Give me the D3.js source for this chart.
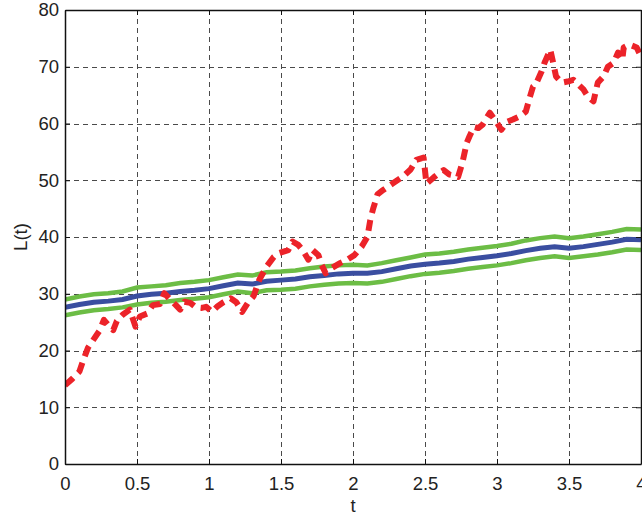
<!DOCTYPE html>
<html>
<head>
<meta charset="utf-8">
<script src="https://cdn.jsdelivr.net/npm/d3@7"></script>
<style>
  body { margin: 0; background: #fff; }
  text { font-family: "Liberation Sans", Arial, sans-serif; fill: #222; }
</style>
</head>
<body>
<div id="chart"></div>
<script>
// time grid for the mean and band curves
const tGrid = [0, 0.1, 0.2, 0.3, 0.4, 0.5, 0.6, 0.7, 0.8, 0.9, 1.0, 1.1, 1.2, 1.3, 1.4,
  1.5, 1.6, 1.7, 1.8, 1.9, 2.0, 2.1, 2.2, 2.3, 2.4, 2.5, 2.6, 2.7, 2.8, 2.9, 3.0,
  3.1, 3.2, 3.3, 3.4, 3.5, 3.6, 3.7, 3.8, 3.9, 4.0];
const meanL = [27.6, 28.1, 28.5, 28.7, 29.0, 29.6, 29.9, 30.1, 30.4, 30.6, 30.9, 31.4,
  31.9, 31.7, 32.2, 32.4, 32.6, 33.0, 33.2, 33.5, 33.6, 33.6, 33.9, 34.4, 34.9, 35.2,
  35.4, 35.7, 36.1, 36.4, 36.7, 37.1, 37.6, 38.0, 38.3, 38.0, 38.3, 38.7, 39.1, 39.6, 39.5];
const upperL = [29.0, 29.5, 29.9, 30.1, 30.4, 31.1, 31.3, 31.5, 31.9, 32.1, 32.4, 32.9,
  33.4, 33.2, 33.8, 33.9, 34.1, 34.5, 34.8, 35.0, 35.1, 35.0, 35.4, 35.9, 36.4, 36.9,
  37.1, 37.4, 37.8, 38.1, 38.4, 38.8, 39.4, 39.8, 40.1, 39.8, 40.1, 40.5, 40.9, 41.4, 41.3];
const lowerL = [26.2, 26.7, 27.1, 27.3, 27.6, 28.1, 28.4, 28.6, 28.9, 29.1, 29.4, 29.9,
  30.4, 30.1, 30.6, 30.7, 30.9, 31.3, 31.6, 31.8, 31.9, 31.8, 32.1, 32.6, 33.1, 33.5,
  33.7, 34.0, 34.4, 34.7, 35.0, 35.4, 35.9, 36.3, 36.6, 36.3, 36.6, 36.9, 37.3, 37.8, 37.7];

// sample path (red dashed)
const tPath = [0.0, 0.05, 0.1, 0.13, 0.16, 0.2, 0.24, 0.27, 0.3, 0.335, 0.36, 0.4, 0.45,
  0.49, 0.52, 0.57, 0.61, 0.66, 0.69, 0.73, 0.77, 0.8, 0.83, 0.87, 0.91, 0.95, 0.98,
  1.02, 1.06, 1.1, 1.15, 1.19, 1.23, 1.27, 1.31, 1.35, 1.4, 1.45, 1.49, 1.55, 1.58,
  1.62, 1.65, 1.69, 1.72, 1.76, 1.78, 1.81, 1.85, 1.91, 1.96, 2.01, 2.06, 2.1, 2.12,
  2.14, 2.17, 2.21, 2.28, 2.35, 2.4, 2.44, 2.49, 2.51, 2.56, 2.6, 2.63, 2.67, 2.71,
  2.73, 2.76, 2.79, 2.81, 2.84, 2.87, 2.9, 2.95, 3.0, 3.03, 3.07, 3.11, 3.16, 3.2,
  3.23, 3.25, 3.27, 3.31, 3.33, 3.37, 3.39, 3.41, 3.45, 3.49, 3.53, 3.56, 3.6, 3.63,
  3.67, 3.7, 3.74, 3.77, 3.81, 3.84, 3.87, 3.88, 3.92, 3.97, 4.0];
const pathL = [13.9, 15.0, 16.3, 18.5, 20.5, 22.0, 23.5, 25.4, 24.5, 23.6, 25.2, 26.3, 27.2,
  24.2, 26.0, 26.5, 28.0, 28.2, 30.1, 29.0, 28.0, 27.2, 28.6, 28.4, 27.6, 27.5, 27.7,
  26.8, 27.8, 28.5, 29.2, 28.5, 26.8, 28.4, 29.6, 32.5, 34.8, 36.5, 37.2, 37.7, 39.2,
  38.6, 37.7, 36.0, 37.7, 36.8, 35.2, 33.6, 34.5, 35.4, 36.0, 36.8, 38.3, 40.0, 43.0,
  45.0, 47.5, 48.3, 49.5, 50.7, 51.9, 53.6, 54.0, 49.4, 50.5, 51.3, 51.8, 51.0, 50.8,
  50.6, 53.1, 56.6, 57.8, 59.4, 59.2, 59.8, 61.9, 60.1, 58.9, 60.3, 60.7, 61.3, 62.1,
  64.8, 66.5, 66.9, 69.2, 70.7, 73.0, 70.7, 68.3, 67.2, 67.4, 67.7, 67.0, 66.0, 64.8,
  63.9, 67.2, 68.3, 70.0, 70.7, 72.5, 71.2, 73.4, 73.9, 73.4, 71.8];

const xTicks = [0, 0.5, 1, 1.5, 2, 2.5, 3, 3.5, 4];
const yTicks = [0, 10, 20, 30, 40, 50, 60, 70, 80];

const width = 642, height = 518;
const margin = { top: 10, right: 1, bottom: 54, left: 65 };
const fontSize = 18.5;

const svg = d3.select("#chart").append("svg")
  .attr("width", width).attr("height", height);

const x = d3.scaleLinear().domain([0, 4]).range([margin.left, width - margin.right]);
const y = d3.scaleLinear().domain([0, 80]).range([height - margin.bottom, margin.top]);

svg.append("clipPath").attr("id", "plot-clip")
  .append("rect")
  .attr("x", x(0)).attr("y", y(80))
  .attr("width", x(4) - x(0)).attr("height", y(0) - y(80));

// grid
const grid = svg.append("g")
  .attr("stroke", "#4a4a4a").attr("stroke-width", 1).attr("stroke-dasharray", "5,4");
grid.selectAll("line.v").data(xTicks.slice(1, -1)).join("line")
  .attr("class", "v")
  .attr("x1", (d) => Math.round(x(d)) + 0.5).attr("x2", (d) => Math.round(x(d)) + 0.5)
  .attr("y1", y(80)).attr("y2", y(0));
grid.selectAll("line.h").data(yTicks.slice(1, -1)).join("line")
  .attr("class", "h")
  .attr("y1", (d) => Math.round(y(d)) + 0.5).attr("y2", (d) => Math.round(y(d)) + 0.5)
  .attr("x1", x(0)).attr("x2", x(4));

const plot = svg.append("g").attr("clip-path", "url(#plot-clip)");

const gridLine = (vals) => d3.line()
  .x((d, i) => x(tGrid[i]))
  .y((d) => y(d))(vals);

plot.append("path").attr("d", gridLine(upperL))
  .attr("fill", "none").attr("stroke", "#6cbd45").attr("stroke-width", 4.5);
plot.append("path").attr("d", gridLine(lowerL))
  .attr("fill", "none").attr("stroke", "#6cbd45").attr("stroke-width", 4.5);
plot.append("path").attr("d", gridLine(meanL))
  .attr("fill", "none").attr("stroke", "#3a4ea0").attr("stroke-width", 5);

const pathLine = d3.line()
  .x((d, i) => x(tPath[i]))
  .y((d) => y(d));
plot.append("path").attr("d", pathLine(pathL))
  .attr("fill", "none").attr("stroke", "#ec2329").attr("stroke-width", 6)
  .attr("stroke-dasharray", "11,7").attr("stroke-linejoin", "round");

// axes, MATLAB style with inward ticks
svg.append("g")
  .attr("transform", `translate(0,${y(0)})`)
  .call(d3.axisBottom(x).tickValues(xTicks).tickSizeInner(-5).tickSizeOuter(0)
    .tickPadding(13).tickFormat(d3.format("")));
svg.append("g")
  .attr("transform", `translate(${x(0)},0)`)
  .call(d3.axisLeft(y).tickValues(yTicks).tickSizeInner(-5).tickSizeOuter(0)
    .tickPadding(6));
svg.append("g")
  .attr("transform", `translate(0,${y(80)})`)
  .call(d3.axisTop(x).tickValues(xTicks).tickSizeInner(-5).tickSizeOuter(0).tickFormat(""));
svg.append("g")
  .attr("transform", `translate(${x(4)},0)`)
  .call(d3.axisRight(y).tickValues(yTicks).tickSizeInner(-5).tickSizeOuter(0).tickFormat(""));

svg.selectAll(".domain").attr("stroke", "#111").attr("stroke-width", 1.5);
svg.selectAll(".tick line").attr("stroke", "#111");
svg.selectAll(".tick text").attr("font-size", fontSize).attr("fill", "#222")
  .style("font-family", "'Liberation Sans', Arial, sans-serif");

svg.append("text")
  .attr("x", (x(0) + x(4)) / 2).attr("y", 512)
  .attr("text-anchor", "middle").attr("font-size", fontSize)
  .text("t");
svg.append("text")
  .attr("transform", `translate(27,${(y(0) + y(80)) / 2}) rotate(-90)`)
  .attr("text-anchor", "middle").attr("font-size", fontSize)
  .text("L(t)");
</script>
</body>
</html>
